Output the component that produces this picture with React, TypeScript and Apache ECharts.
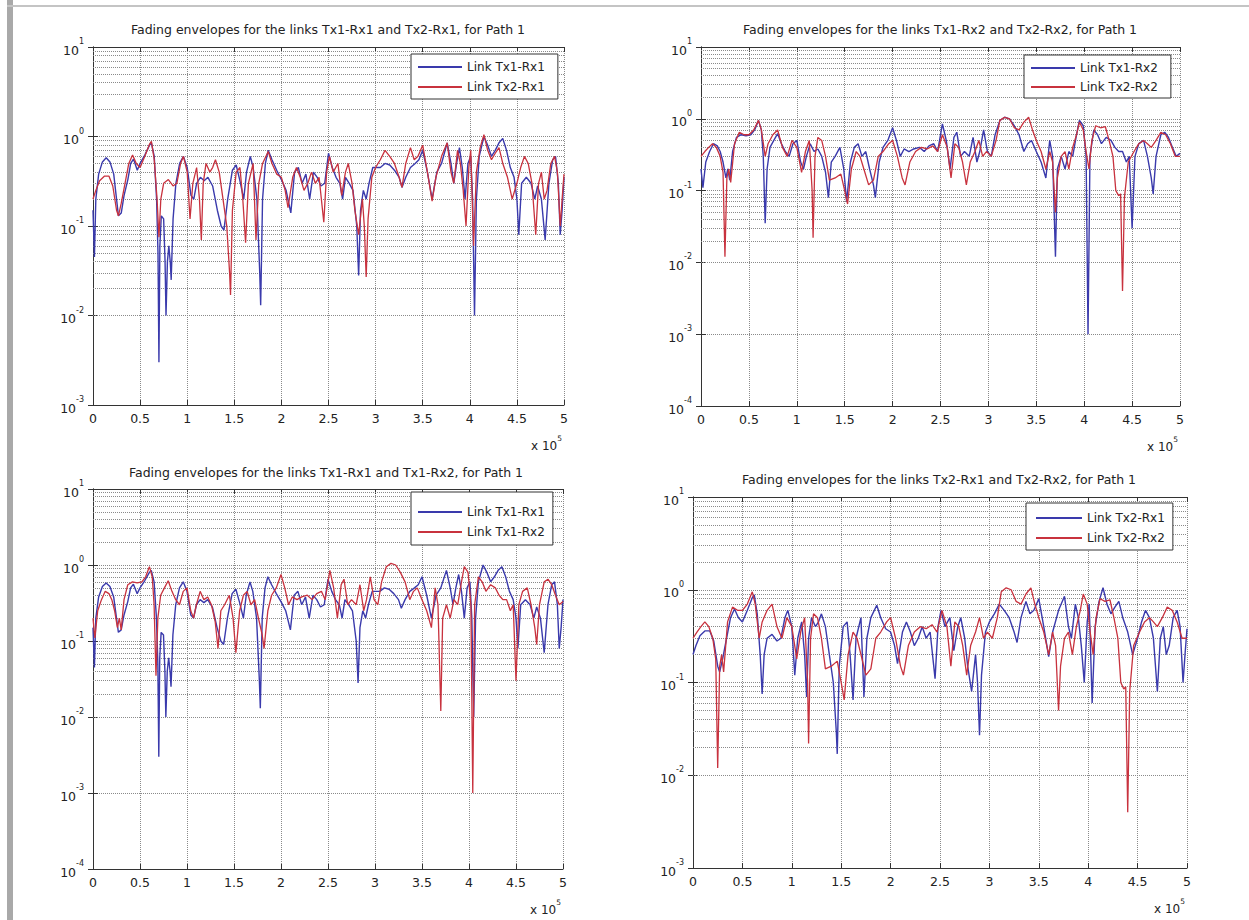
import React, { useEffect, useRef } from 'react';
import * as echarts from 'echarts';

// x in units of 10^5 samples, value = fading envelope amplitude
const h11: [number, number][] = [
  [0,0.15],[0.015,0.045],[0.03,0.2],[0.06,0.38],[0.1,0.52],[0.14,0.58],[0.18,0.52],[0.22,0.38],[0.25,0.2],[0.27,0.13],[0.3,0.14],[0.33,0.22],[0.37,0.33],[0.4,0.5],[0.43,0.56],[0.47,0.42],[0.5,0.5],[0.55,0.62],[0.6,0.8],[0.62,0.85],[0.65,0.6],[0.675,0.2],[0.69,0.05],[0.7,0.003],[0.71,0.06],[0.725,0.13],[0.75,0.12],[0.765,0.04],[0.775,0.01],[0.79,0.04],[0.805,0.06],[0.82,0.04],[0.83,0.025],[0.85,0.12],[0.88,0.3],[0.92,0.5],[0.96,0.6],[1.0,0.45],[1.04,0.22],[1.07,0.2],[1.1,0.3],[1.14,0.35],[1.18,0.32],[1.22,0.35],[1.27,0.28],[1.32,0.15],[1.36,0.1],[1.39,0.09],[1.43,0.2],[1.48,0.42],[1.52,0.48],[1.56,0.32],[1.6,0.2],[1.63,0.4],[1.67,0.6],[1.7,0.45],[1.74,0.2],[1.77,0.03],[1.78,0.013],[1.8,0.2],[1.83,0.5],[1.86,0.7],[1.9,0.55],[1.95,0.42],[2.0,0.33],[2.05,0.25],[2.1,0.14],[2.14,0.4],[2.18,0.45],[2.22,0.3],[2.26,0.38],[2.3,0.2],[2.34,0.4],[2.38,0.35],[2.42,0.28],[2.46,0.3],[2.5,0.65],[2.54,0.45],[2.58,0.35],[2.62,0.3],[2.65,0.2],[2.68,0.35],[2.72,0.3],[2.76,0.25],[2.8,0.1],[2.82,0.028],[2.84,0.15],[2.87,0.25],[2.9,0.2],[2.93,0.3],[2.97,0.45],[3.0,0.45],[3.05,0.45],[3.1,0.5],[3.15,0.48],[3.2,0.42],[3.25,0.35],[3.28,0.27],[3.32,0.35],[3.37,0.45],[3.42,0.5],[3.46,0.55],[3.5,0.7],[3.55,0.4],[3.6,0.2],[3.65,0.4],[3.7,0.5],[3.76,0.85],[3.8,0.5],[3.83,0.3],[3.86,0.5],[3.89,0.75],[3.92,0.45],[3.95,0.2],[3.98,0.5],[4.01,0.6],[4.03,0.2],[4.05,0.01],[4.07,0.2],[4.1,0.6],[4.15,1.0],[4.19,0.8],[4.23,0.6],[4.27,0.7],[4.31,0.85],[4.35,0.95],[4.39,0.7],[4.43,0.45],[4.47,0.35],[4.5,0.2],[4.52,0.08],[4.55,0.3],[4.6,0.35],[4.65,0.3],[4.69,0.2],[4.72,0.28],[4.76,0.2],[4.8,0.07],[4.84,0.3],[4.88,0.55],[4.91,0.6],[4.94,0.3],[4.96,0.08],[4.98,0.15],[5.0,0.35]
];

const h21: [number, number][] = [
  [0,0.2],[0.03,0.25],[0.07,0.32],[0.12,0.36],[0.17,0.36],[0.21,0.28],[0.25,0.15],[0.27,0.13],[0.3,0.18],[0.34,0.3],[0.38,0.5],[0.42,0.62],[0.46,0.5],[0.5,0.45],[0.55,0.6],[0.6,0.82],[0.62,0.88],[0.65,0.55],[0.68,0.2],[0.7,0.075],[0.72,0.2],[0.75,0.3],[0.8,0.33],[0.85,0.28],[0.89,0.3],[0.93,0.5],[0.96,0.6],[1.0,0.4],[1.03,0.12],[1.06,0.3],[1.1,0.45],[1.13,0.2],[1.15,0.07],[1.17,0.3],[1.2,0.5],[1.24,0.4],[1.27,0.45],[1.3,0.55],[1.34,0.4],[1.38,0.2],[1.42,0.1],[1.45,0.03],[1.46,0.017],[1.48,0.15],[1.52,0.4],[1.56,0.45],[1.59,0.2],[1.62,0.065],[1.65,0.3],[1.7,0.5],[1.73,0.07],[1.76,0.3],[1.8,0.5],[1.86,0.68],[1.9,0.5],[1.95,0.38],[2.0,0.35],[2.04,0.25],[2.07,0.16],[2.12,0.35],[2.16,0.45],[2.2,0.35],[2.24,0.25],[2.28,0.3],[2.32,0.4],[2.36,0.3],[2.4,0.35],[2.45,0.11],[2.48,0.4],[2.51,0.6],[2.55,0.4],[2.6,0.5],[2.64,0.22],[2.68,0.4],[2.71,0.5],[2.75,0.3],[2.78,0.15],[2.82,0.08],[2.86,0.2],[2.88,0.1],[2.9,0.027],[2.92,0.12],[2.96,0.35],[3.0,0.45],[3.05,0.55],[3.1,0.7],[3.15,0.6],[3.2,0.5],[3.25,0.35],[3.28,0.27],[3.32,0.5],[3.37,0.75],[3.41,0.55],[3.45,0.6],[3.5,0.8],[3.55,0.4],[3.6,0.19],[3.64,0.35],[3.7,0.6],[3.76,0.85],[3.8,0.4],[3.83,0.3],[3.87,0.7],[3.9,0.5],[3.93,0.25],[3.96,0.1],[3.99,0.45],[4.01,0.7],[4.04,0.06],[4.07,0.4],[4.11,0.75],[4.15,1.05],[4.19,0.7],[4.23,0.55],[4.27,0.65],[4.31,0.75],[4.35,0.5],[4.4,0.35],[4.45,0.2],[4.5,0.3],[4.54,0.45],[4.58,0.6],[4.62,0.5],[4.66,0.3],[4.7,0.08],[4.73,0.3],[4.76,0.4],[4.79,0.2],[4.82,0.25],[4.86,0.5],[4.9,0.6],[4.93,0.4],[4.96,0.1],[4.98,0.2],[5.0,0.38]
];

const h12: [number, number][] = [
  [0,0.2],[0.02,0.11],[0.05,0.25],[0.09,0.35],[0.13,0.45],[0.17,0.42],[0.2,0.35],[0.23,0.25],[0.26,0.15],[0.28,0.2],[0.3,0.14],[0.33,0.35],[0.37,0.55],[0.42,0.6],[0.47,0.58],[0.52,0.6],[0.56,0.7],[0.6,0.95],[0.63,0.7],[0.65,0.3],[0.67,0.035],[0.69,0.2],[0.72,0.4],[0.76,0.5],[0.8,0.62],[0.84,0.45],[0.88,0.35],[0.92,0.3],[0.96,0.45],[1.0,0.5],[1.04,0.25],[1.07,0.2],[1.1,0.3],[1.14,0.45],[1.18,0.35],[1.22,0.38],[1.26,0.3],[1.3,0.18],[1.33,0.08],[1.36,0.25],[1.4,0.3],[1.45,0.4],[1.49,0.2],[1.52,0.07],[1.56,0.25],[1.6,0.4],[1.64,0.45],[1.68,0.3],[1.72,0.35],[1.76,0.2],[1.8,0.12],[1.82,0.08],[1.86,0.25],[1.9,0.4],[1.95,0.5],[2.0,0.75],[2.04,0.5],[2.08,0.3],[2.12,0.38],[2.17,0.35],[2.22,0.38],[2.28,0.4],[2.33,0.35],[2.38,0.42],[2.43,0.45],[2.47,0.35],[2.52,0.85],[2.56,0.5],[2.6,0.2],[2.64,0.55],[2.67,0.65],[2.71,0.3],[2.75,0.35],[2.8,0.3],[2.84,0.55],[2.88,0.25],[2.91,0.35],[2.95,0.7],[2.99,0.35],[3.03,0.3],[3.07,0.6],[3.12,0.95],[3.17,1.05],[3.22,1.0],[3.27,0.8],[3.32,0.6],[3.37,0.35],[3.41,0.45],[3.45,0.5],[3.5,0.35],[3.55,0.25],[3.6,0.15],[3.64,0.5],[3.67,0.3],[3.7,0.012],[3.72,0.2],[3.76,0.3],[3.8,0.2],[3.84,0.35],[3.88,0.3],[3.92,0.6],[3.95,0.95],[3.99,0.8],[4.02,0.3],[4.04,0.001],[4.06,0.3],[4.1,0.7],[4.14,0.6],[4.18,0.45],[4.23,0.55],[4.28,0.5],[4.32,0.4],[4.36,0.35],[4.4,0.35],[4.44,0.25],[4.47,0.3],[4.5,0.03],[4.53,0.3],[4.57,0.45],[4.62,0.5],[4.66,0.3],[4.7,0.15],[4.72,0.09],[4.75,0.3],[4.8,0.6],[4.84,0.65],[4.88,0.55],[4.92,0.4],[4.96,0.3],[5.0,0.33]
];

const h22: [number, number][] = [
  [0,0.3],[0.04,0.35],[0.08,0.4],[0.12,0.45],[0.16,0.4],[0.2,0.3],[0.23,0.18],[0.25,0.012],[0.27,0.15],[0.29,0.2],[0.31,0.13],[0.35,0.45],[0.4,0.65],[0.45,0.6],[0.5,0.6],[0.55,0.7],[0.6,0.95],[0.63,0.7],[0.67,0.3],[0.7,0.45],[0.75,0.6],[0.8,0.7],[0.85,0.4],[0.9,0.3],[0.95,0.5],[1.0,0.4],[1.05,0.18],[1.09,0.35],[1.13,0.5],[1.16,0.1],[1.17,0.022],[1.19,0.3],[1.22,0.55],[1.26,0.5],[1.3,0.3],[1.34,0.14],[1.4,0.15],[1.46,0.17],[1.5,0.1],[1.53,0.065],[1.57,0.2],[1.62,0.35],[1.66,0.3],[1.7,0.2],[1.75,0.12],[1.8,0.14],[1.85,0.3],[1.9,0.35],[1.96,0.45],[2.0,0.5],[2.05,0.3],[2.1,0.15],[2.13,0.12],[2.18,0.25],[2.24,0.35],[2.3,0.4],[2.36,0.38],[2.42,0.42],[2.47,0.35],[2.52,0.6],[2.57,0.4],[2.61,0.15],[2.65,0.45],[2.69,0.4],[2.73,0.25],[2.77,0.12],[2.81,0.25],[2.86,0.35],[2.9,0.5],[2.94,0.3],[2.98,0.35],[3.03,0.3],[3.08,0.5],[3.12,0.95],[3.17,1.05],[3.22,1.0],[3.27,0.75],[3.32,0.7],[3.37,0.9],[3.42,1.05],[3.46,0.7],[3.5,0.5],[3.55,0.35],[3.6,0.2],[3.64,0.35],[3.67,0.25],[3.7,0.05],[3.72,0.15],[3.76,0.3],[3.8,0.35],[3.84,0.2],[3.88,0.4],[3.92,0.6],[3.95,0.9],[3.99,0.7],[4.02,0.35],[4.05,0.2],[4.08,0.5],[4.12,0.8],[4.17,0.75],[4.22,0.78],[4.26,0.5],[4.3,0.3],[4.33,0.1],[4.36,0.085],[4.38,0.09],[4.4,0.004],[4.42,0.08],[4.46,0.25],[4.52,0.35],[4.57,0.45],[4.62,0.5],[4.66,0.45],[4.7,0.4],[4.75,0.5],[4.8,0.65],[4.85,0.6],[4.9,0.45],[4.95,0.3],[5.0,0.3]
];

const titles = [
  'Fading envelopes for the links Tx1-Rx1 and Tx2-Rx1, for Path 1',
  'Fading envelopes for the links Tx1-Rx2 and Tx2-Rx2, for Path 1',
  'Fading envelopes for the links Tx1-Rx1 and Tx1-Rx2, for Path 1',
  'Fading envelopes for the links Tx2-Rx1 and Tx2-Rx2, for Path 1',
];
const blueNames = ['Link Tx1-Rx1', 'Link Tx1-Rx2', 'Link Tx1-Rx1', 'Link Tx2-Rx1'];
const redNames = ['Link Tx2-Rx1', 'Link Tx2-Rx2', 'Link Tx1-Rx2', 'Link Tx2-Rx2'];
const blueData = [h11, h12, h11, h21];
const redData = [h21, h22, h12, h22];
const yMinExp = [-3, -4, -4, -3];
const yMaxExp = 1;
const xMin = 0;
const xMax = 5;
const xStep = 0.5;

// layout (pixels)
const grids = [
  { left: 93, top: 47, width: 471, height: 358 },
  { left: 701, top: 47, width: 479, height: 359 },
  { left: 93, top: 489, width: 470, height: 380 },
  { left: 693, top: 497, width: 494, height: 371 },
];
const titlePos = [
  { x: 328, y: 23 },
  { x: 940, y: 23 },
  { x: 326, y: 466 },
  { x: 939, y: 473 },
];
const legendPos = [
  { left: 411, top: 54, padding: [6, 13, 5, 7], gap: 6, w: 44 },
  { left: 1024, top: 55, padding: [6, 13, 4, 7], gap: 5, w: 44 },
  { left: 411, top: 492, padding: [13, 8, 6, 7], gap: 6, w: 44 },
  { left: 1026, top: 503, padding: [8, 8, 5, 10], gap: 6, w: 46 },
];

const BLUE = '#3a3aac';
const RED = '#c8323e';
const FONT = 'DejaVu Sans, Liberation Sans, Arial, sans-serif';
const GRIDC = '#8a8a8a';
const AXC = '#333333';

function minorGrid(minE: number, maxE: number): number[] {
  const out: number[] = [];
  for (let e = minE; e < maxE; e++) {
    for (let k = 2; k <= 9; k++) out.push(k * Math.pow(10, e));
  }
  return out;
}

export default function App() {
  const ref = useRef<HTMLDivElement>(null);
  useEffect(() => {
    document.body.style.margin = '0';
    if (!ref.current) return;
    const chart = echarts.init(ref.current, undefined, { renderer: 'svg' });

    const xAxis: any[] = [];
    const yAxis: any[] = [];
    const series: any[] = [];
    const title: any[] = [];
    const legend: any[] = [];
    const graphic: any[] = [];

    grids.forEach((g, i) => {
      xAxis.push({
        gridIndex: i, type: 'value', min: xMin, max: xMax, interval: xStep,
        axisLine: { show: true, lineStyle: { color: AXC } },
        axisTick: { inside: true, length: 5, lineStyle: { color: AXC } },
        axisLabel: { margin: 7, fontSize: 12.5, color: '#222', fontFamily: FONT },
        splitLine: { show: true, lineStyle: { type: 'dotted', color: GRIDC, width: 1 } },
      });
      xAxis.push({
        gridIndex: i, type: 'value', min: xMin, max: xMax, interval: xStep, position: 'top',
        axisLine: { show: true, lineStyle: { color: AXC } },
        axisTick: { inside: true, length: 5, lineStyle: { color: AXC } },
        axisLabel: { show: false }, splitLine: { show: false },
      });
      const decades = yMaxExp - yMinExp[i];
      yAxis.push({
        gridIndex: i, type: 'log', logBase: 10,
        min: Math.pow(10, yMinExp[i]), max: Math.pow(10, yMaxExp), splitNumber: decades,
        axisLine: { show: true, lineStyle: { color: AXC } },
        axisTick: { inside: true, length: 5, lineStyle: { color: AXC } },
        axisLabel: {
          margin: 9, color: '#222', fontFamily: FONT,
          formatter: (v: number) => '{b|10}{s|' + Math.round(Math.log10(v)) + '}',
          rich: {
            b: { fontSize: 12.5, lineHeight: 19, fontFamily: FONT, color: '#222', verticalAlign: 'bottom' },
            s: { fontSize: 8, lineHeight: 9, fontFamily: FONT, color: '#222', verticalAlign: 'top' },
          },
        },
        splitLine: { show: true, lineStyle: { type: 'dotted', color: GRIDC, width: 1 } },
      });
      yAxis.push({
        gridIndex: i, type: 'log', logBase: 10, position: 'right',
        min: Math.pow(10, yMinExp[i]), max: Math.pow(10, yMaxExp), splitNumber: decades,
        axisLine: { show: true, lineStyle: { color: AXC } },
        axisTick: { inside: true, length: 5, lineStyle: { color: AXC } },
        axisLabel: { show: false }, splitLine: { show: false },
      });
      series.push({
        type: 'line', name: blueNames[i], xAxisIndex: 2 * i, yAxisIndex: 2 * i,
        data: blueData[i], showSymbol: false, symbol: 'none',
        lineStyle: { color: BLUE, width: 1.4 }, itemStyle: { color: BLUE },
        z: 3,
        markLine: {
          silent: true, symbol: ['none', 'none'], label: { show: false },
          lineStyle: { type: 'dotted', color: GRIDC, width: 1 },
          emphasis: { disabled: true },
          data: minorGrid(yMinExp[i], yMaxExp).map((v) => ({ yAxis: v })),
          z: 1,
        },
      });
      series.push({
        type: 'line', name: redNames[i], xAxisIndex: 2 * i, yAxisIndex: 2 * i,
        data: redData[i], showSymbol: false, symbol: 'none',
        lineStyle: { color: RED, width: 1.3 }, itemStyle: { color: RED },
        z: 4,
      });
      title.push({
        text: titles[i], left: titlePos[i].x, top: titlePos[i].y, textAlign: 'center', padding: 0,
        textStyle: { fontSize: 12.5, fontWeight: 'normal', color: '#222', fontFamily: FONT },
      });
      const lp = legendPos[i];
      legend.push({
        orient: 'vertical', left: lp.left, top: lp.top, padding: lp.padding, itemGap: lp.gap,
        itemWidth: lp.w, itemHeight: 2, icon: 'rect',
        borderColor: '#333', borderWidth: 1, backgroundColor: '#fff',
        textStyle: { fontSize: 12, color: '#222', fontFamily: FONT, lineHeight: 14 },
        data: [
          { name: blueNames[i], itemStyle: { color: BLUE } },
          { name: redNames[i], itemStyle: { color: RED } },
        ],
      });
      graphic.push({
        type: 'text', x: g.left + g.width - 2, y: g.top + g.height + 38,
        style: {
          text: '{a|x 10}{e|5}', align: 'right', verticalAlign: 'middle',
          rich: {
            a: { fontSize: 12, fontFamily: FONT, fill: '#222', color: '#222', lineHeight: 17, verticalAlign: 'bottom' },
            e: { fontSize: 7.5, fontFamily: FONT, fill: '#222', color: '#222', lineHeight: 8, verticalAlign: 'top' },
          },
        },
      });
    });

    // page frame artifacts
    graphic.push({ type: 'rect', shape: { x: 7, y: 0, width: 6, height: 920 }, style: { fill: '#a9a9a9' }, silent: true });
    graphic.push({ type: 'rect', shape: { x: 7, y: 5, width: 1242, height: 2 }, style: { fill: '#c4c4c4' }, silent: true });

    chart.setOption({
      animation: false,
      backgroundColor: '#ffffff',
      title,
      legend,
      grid: grids.map((g) => ({ ...g, show: false, containLabel: false })),
      xAxis,
      yAxis,
      series,
      graphic,
    });
    return () => chart.dispose();
  }, []);
  return <div ref={ref} style={{ position: 'absolute', left: 0, top: 0, width: 1249, height: 920, background: '#fff' }} />;
}
